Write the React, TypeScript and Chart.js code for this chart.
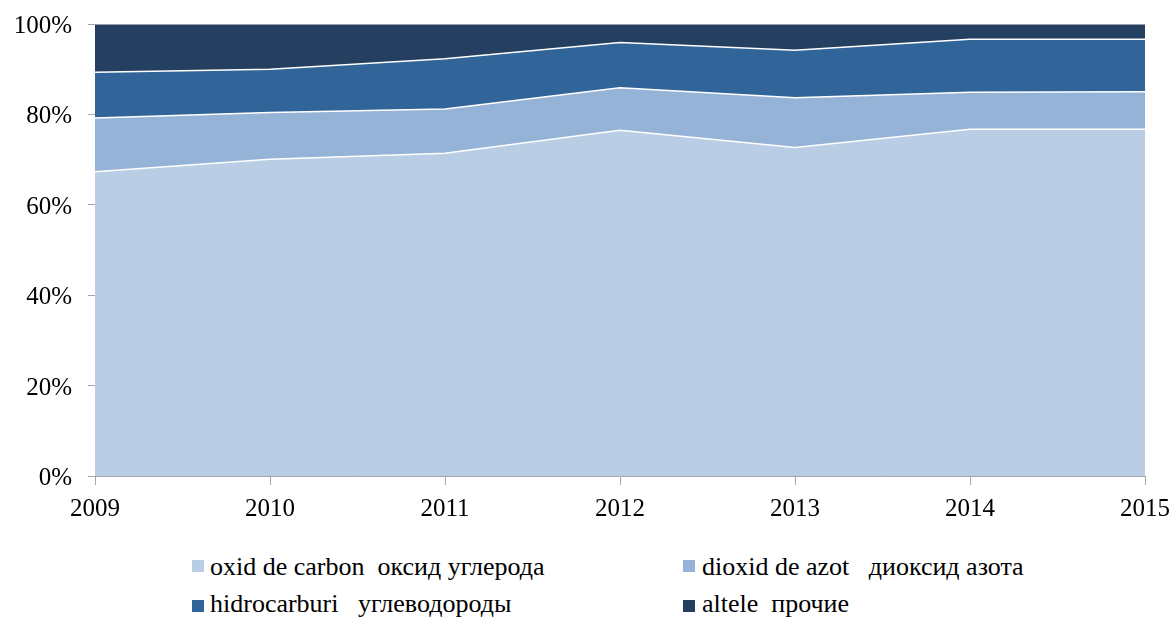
import React, { useEffect, useRef } from "react";
import { Chart, registerables } from "chart.js";

Chart.register(...registerables);

const years = ["2009", "2010", "2011", "2012", "2013", "2014", "2015"];
const carbon = [67.3, 70.1, 71.4, 76.5, 72.7, 76.7, 76.7];
const dioxid = [11.9, 10.3, 9.8, 9.4, 11.0, 8.2, 8.3];
const hidro = [10.1, 9.6, 11.1, 10.0, 10.5, 11.7, 11.6];
const altele = [10.7, 10.0, 7.7, 4.1, 5.8, 3.4, 3.4];
const yTicks = [0, 20, 40, 60, 80, 100];

const seriesNames = [
  "oxid de carbon  оксид углерода",
  "dioxid de azot   диоксид азота",
  "hidrocarburi   углеводороды",
  "altele  прочие",
];
const colors = ["#B9CDE5", "#95B3D7", "#31659A", "#253F60"];

const FONT = "'Liberation Serif', 'Times New Roman', serif";

const axisLabels = {
  id: "axisLabels",
  afterDraw(chart: any) {
    const ctx = chart.ctx;
    const xs = chart.scales.x;
    const ys = chart.scales.y;
    ctx.save();
    ctx.fillStyle = "#000";
    ctx.font = `25px ${FONT}`;
    ctx.textBaseline = "alphabetic";
    ctx.textAlign = "center";
    xs.ticks.forEach((t: any, i: number) => {
      const px = xs.getPixelForTick(i);
      ctx.fillText(String(xs.getLabelForValue(t.value)), px, xs.top + 40);
    });
    ctx.textAlign = "right";
    ys.ticks.forEach((t: any) => {
      const py = ys.getPixelForValue(t.value);
      ctx.fillText(t.value + "%", ys.right - 23, py + 9);
    });
    ctx.restore();
  },
};

export default function App() {
  const ref = useRef<HTMLCanvasElement | null>(null);

  useEffect(() => {
    if (!ref.current) return;
    const values = [carbon, dioxid, hidro, altele];
    const chart = new Chart(ref.current, {
      type: "line",
      data: {
        labels: years,
        datasets: values.map((v, i) => ({
          label: seriesNames[i],
          data: v,
          backgroundColor: colors[i],
          borderColor: i === 3 ? "#BFBFBF" : "#FFFFFF",
          borderWidth: 1.5,
          pointRadius: 0,
          tension: 0,
          fill: i === 0 ? "origin" : "-1",
        })),
      },
      plugins: [axisLabels],
      options: {
        animation: false,
        responsive: false,
        layout: { padding: { top: 24, right: 28, left: 0, bottom: 0 } },
        plugins: { legend: { display: false }, tooltip: { enabled: false } },
        scales: {
          x: {
            offset: false,
            grid: {
              drawOnChartArea: false,
              drawTicks: true,
              tickLength: 9,
              color: "#A6A6A6",
            },
            border: { color: "#A6A6A6" },
            ticks: { display: false, autoSkip: false, maxRotation: 0 },
            afterFit: (s: any) => {
              s.height = 64;
            },
          },
          y: {
            stacked: true,
            min: 0,
            max: 100,
            afterBuildTicks: (s: any) => {
              s.ticks = yTicks.map((v) => ({ value: v }));
            },
            grid: {
              drawOnChartArea: false,
              drawTicks: true,
              tickLength: 7,
              color: "#A6A6A6",
            },
            border: { color: "#A6A6A6" },
            ticks: { display: false },
            afterFit: (s: any) => {
              s.width = 95;
            },
          },
        },
      },
    });
    return () => chart.destroy();
  }, []);

  const legendItem = (
    i: number,
    boxLeft: number,
    boxTop: number,
    textLeft: number,
    textTop: number
  ) => (
    <React.Fragment key={i}>
      <span
        style={{
          position: "absolute",
          left: boxLeft,
          top: boxTop,
          width: 12,
          height: 12,
          background: colors[i],
        }}
      />
      <span
        style={{
          position: "absolute",
          left: textLeft,
          top: textTop,
          height: 30,
          lineHeight: "30px",
          fontFamily: FONT,
          fontSize: 26,
          whiteSpace: "pre",
          color: "#000",
        }}
      >
        {seriesNames[i]}
      </span>
    </React.Fragment>
  );

  return (
    <div
      style={{
        position: "fixed",
        left: 0,
        top: 0,
        width: 1173,
        height: 619,
        overflow: "hidden",
        background: "#fff",
      }}
    >
      <canvas
        ref={ref}
        width={1173}
        height={540}
        style={{ position: "absolute", left: 0, top: 0, display: "block" }}
      />
      {legendItem(0, 192, 560, 210, 552)}
      {legendItem(1, 683, 560, 702, 552)}
      {legendItem(2, 192, 600, 210, 589)}
      {legendItem(3, 683, 600, 702, 589)}
    </div>
  );
}
